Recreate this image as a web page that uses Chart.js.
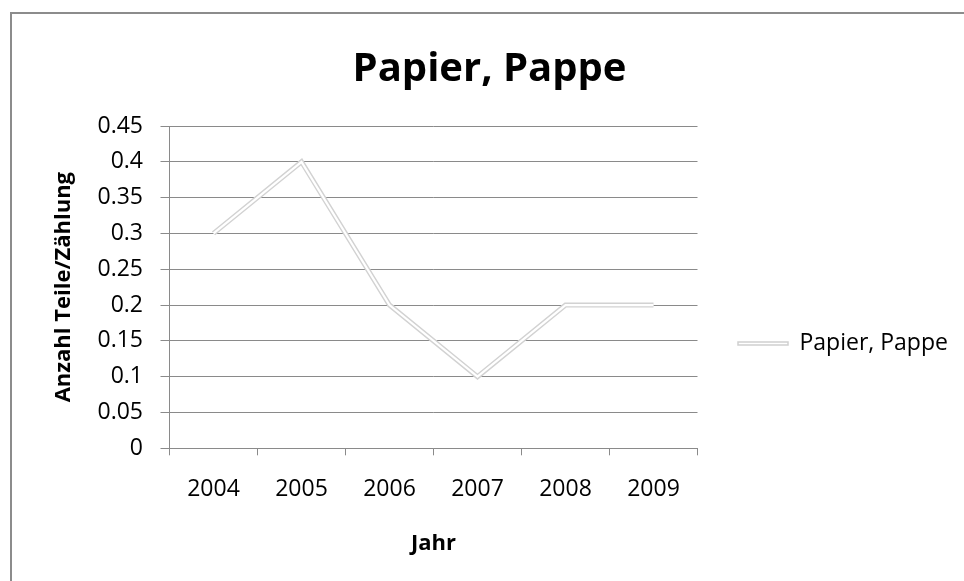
<!DOCTYPE html>
<html>
<head>
<meta charset="utf-8">
<title>Papier, Pappe</title>
<script src="https://cdn.jsdelivr.net/npm/chart.js@4/dist/chart.umd.min.js"></script>
<style>
  html, body { margin: 0; padding: 0; background: #ffffff; overflow: hidden; }
  #wrap { position: relative; width: 964px; height: 581px; overflow: hidden; background: #ffffff; }
  #frame {
    position: absolute; left: 10px; top: 12px; right: -20px; bottom: -20px;
    border-left: 2px solid #8c8c8c; border-top: 2px solid #8c8c8c;
    pointer-events: none;
  }
  canvas { position: absolute; left: 0; top: 0; }
</style>
</head>
<body>
<div id="wrap">
  <canvas id="chart" width="964" height="581" style="width:964px;height:581px"></canvas>
  <div id="frame"></div>
</div>
<script>
// Jahre (Kategorien) und Anzahl Teile pro Zählung
const years = ['2004', '2005', '2006', '2007', '2008', '2009'];
const papierPappe = [0.3, 0.4, 0.2, 0.1, 0.2, 0.2];
const yTickLabels = ['0', '0.05', '0.1', '0.15', '0.2', '0.25', '0.3', '0.35', '0.4', '0.45'];

const FONT = "'Open Sans', 'Noto Sans', sans-serif";
const GRID = '#8a8a8a';
const TEXT = '#000000';

// Feste Breite der Legendenspalte rechts vom Diagramm
const LEGEND_WIDTH = 266.5;
const legendWidth = {
  id: 'legendWidth',
  beforeLayout(chart) {
    const lg = chart.legend;
    if (lg && !lg._fixedWidth) {
      const fit = lg.fit;
      lg.fit = function () { fit.call(this); this.width = LEGEND_WIDTH; };
      lg._fixedWidth = true;
    }
  }
};

new Chart(document.getElementById('chart'), {
  type: 'line',
  data: {
    labels: years,
    datasets: [
      {
        // hellgraue Kontur der Linie
        label: 'Papier, Pappe',
        data: papierPappe,
        order: 2,
        borderColor: '#d2d2d2',
        backgroundColor: '#ffffff',
        borderWidth: 5,
        pointRadius: 0,
        pointHoverRadius: 0,
        tension: 0,
        fill: false,
        borderJoinStyle: 'miter'
      },
      {
        // weißer Kern der Linie, darüber gezeichnet
        label: 'Papier, Pappe (innen)',
        data: papierPappe,
        order: 1,
        borderColor: '#ffffff',
        borderWidth: 2.2,
        pointRadius: 0,
        pointHoverRadius: 0,
        tension: 0,
        fill: false,
        borderJoinStyle: 'miter'
      }
    ]
  },
  options: {
    responsive: false,
    devicePixelRatio: 1,
    animation: false,
    events: [],
    layout: { padding: { left: 15, right: 0, top: 0, bottom: 0 } },
    plugins: {
      title: {
        display: true,
        text: 'Papier, Pappe',
        color: TEXT,
        font: { family: FONT, size: 40, weight: 'bold', lineHeight: 1.2 },
        padding: { top: 46, bottom: 32 }
      },
      legend: {
        position: 'right',
        title: {
          display: true,
          text: ' ',
          font: { family: FONT, size: 10, lineHeight: 1.2 },
          padding: { top: 94, bottom: 0 }
        },
        labels: {
          color: TEXT,
          font: { family: FONT, size: 23 },
          boxWidth: 50,
          boxHeight: 3,
          padding: 40.5,
          filter: (item) => item.datasetIndex === 0,
          generateLabels(chart) {
            const items = Chart.defaults.plugins.legend.labels.generateLabels(chart);
            items.forEach((it) => {
              it.fillStyle = '#ffffff';
              it.strokeStyle = '#d0d0d0';
              it.lineWidth = 1.5;
            });
            return items;
          }
        }
      },
      tooltip: { enabled: false }
    },
    scales: {
      x: {
        type: 'category',
        offset: true,
        afterFit(scale) { scale.height = 132.7; },
        grid: {
          offset: true,
          drawOnChartArea: false,
          drawTicks: true,
          tickLength: 7,
          color: GRID,
          lineWidth: 1
        },
        border: { display: true, color: GRID, width: 1 },
        ticks: {
          color: TEXT,
          font: { family: FONT, size: 23 },
          padding: 20,
          maxRotation: 0,
          autoSkip: false
        },
        title: {
          display: true,
          text: 'Jahr',
          color: TEXT,
          font: { family: FONT, size: 22, weight: 'bold', lineHeight: 1.2 },
          padding: { top: 0, bottom: 24.3 }
        }
      },
      y: {
        min: 0,
        max: 0.45,
        afterFit(scale) { scale.width = 154.5; },
        grid: {
          drawOnChartArea: true,
          drawTicks: true,
          tickLength: 9,
          color: GRID,
          lineWidth: 1
        },
        border: { display: true, color: GRID, width: 1 },
        ticks: {
          stepSize: 0.05,
          color: TEXT,
          font: { family: FONT, size: 23 },
          padding: 17.5,
          callback: (value, index) => yTickLabels[index]
        },
        title: {
          display: true,
          text: 'Anzahl Teile/Zählung',
          color: TEXT,
          font: { family: FONT, size: 22, weight: 'bold', lineHeight: 1.2 },
          padding: { top: 35.8, bottom: 0 }
        }
      }
    }
  },
  plugins: [legendWidth]
});
</script>
</body>
</html>
